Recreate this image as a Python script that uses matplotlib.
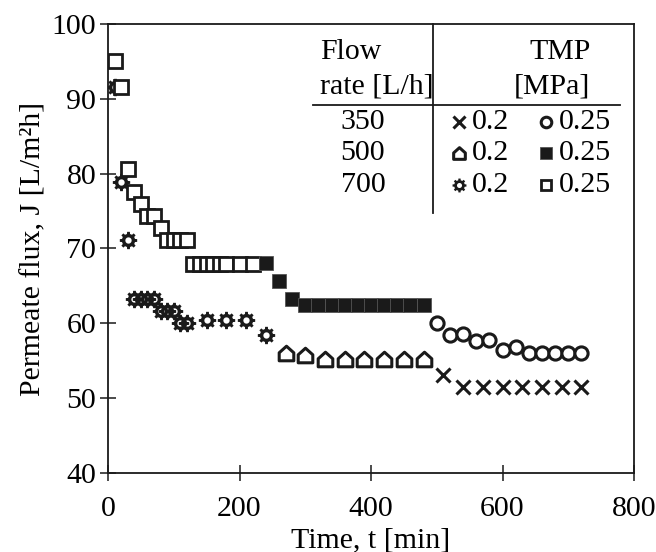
import matplotlib
matplotlib.use("Agg")
import matplotlib.pyplot as plt
import numpy as np
from matplotlib.path import Path

plt.rcParams['font.family'] = ['Liberation Serif', 'DejaVu Serif']
FS = 21.5

# ---------------- data ----------------
sq700_t = [10, 20, 30, 40, 50, 60, 70, 80, 90, 100, 110, 120,
           130, 140, 150, 160, 170, 180, 200, 220]
sq700_v = [95.0, 91.6, 80.6, 77.5, 75.9, 74.3, 74.3, 72.7, 71.1, 71.1, 71.1, 71.1,
           67.9, 67.9, 67.9, 67.9, 67.9, 67.9, 67.9, 67.9]

star700_t = [10, 20, 30, 40, 50, 60, 70, 80, 90, 100, 110, 120, 150, 180, 210, 240]
star700_v = [91.6, 78.9, 71.1, 63.2, 63.2, 63.2, 63.2, 61.7, 61.7, 61.7, 60.0, 60.0,
             60.5, 60.5, 60.5, 58.4]

fsq500_t = [240, 260, 280, 300, 320, 340, 360, 380, 400, 420, 440, 460, 480]
fsq500_v = [68.0, 65.6, 63.2, 62.5, 62.5, 62.5, 62.5, 62.5, 62.5, 62.5, 62.5, 62.5, 62.5]

house500_t = [270, 300, 330, 360, 390, 420, 450, 480]
house500_v = [56.0, 55.8, 55.3, 55.3, 55.3, 55.3, 55.3, 55.3]

circ350_t = [500, 520, 540, 560, 580, 600, 620, 640, 660, 680, 700, 720]
circ350_v = [60.0, 58.4, 58.6, 57.6, 57.8, 56.5, 56.9, 56.1, 56.0, 56.0, 56.0, 56.0]

cross350_t = [510, 540, 570, 600, 630, 660, 690, 720]
cross350_v = [53.1, 51.5, 51.5, 51.5, 51.5, 51.5, 51.5, 51.5]

flow_rates = ["350", "500", "700"]
tmp_low = "0.2"
tmp_high = "0.25"
x_ticks = [0, 200, 400, 600, 800]
y_ticks = [40, 50, 60, 70, 80, 90, 100]

# ---------------- custom markers ----------------
def house_marker():
    verts = [(-1, -1), (1, -1), (1, 0.1), (0, 1), (-1, 0.1), (-1, -1)]
    codes = [Path.MOVETO] + [Path.LINETO] * 4 + [Path.CLOSEPOLY]
    return Path(verts, codes)

def gear_marker(n=8, r_out=1.0, r_in=0.76, r_hole=0.36):
    verts, codes = [], []
    step = 2 * np.pi / n
    for i in range(n):
        a = i * step
        for aa, r in [(a - step * 0.30, r_in), (a - step * 0.20, r_out),
                      (a + step * 0.20, r_out), (a + step * 0.30, r_in)]:
            verts.append((r * np.cos(aa), r * np.sin(aa)))
    codes = [Path.MOVETO] + [Path.LINETO] * (len(verts) - 1)
    verts.append(verts[0]); codes.append(Path.CLOSEPOLY)
    m = 20
    hole = [(r_hole * np.cos(-2 * np.pi * k / m), r_hole * np.sin(-2 * np.pi * k / m)) for k in range(m)]
    verts += hole + [hole[0]]
    codes += [Path.MOVETO] + [Path.LINETO] * (m - 1) + [Path.CLOSEPOLY]
    return Path(verts, codes)

HOUSE = house_marker()
GEAR = gear_marker()

# ---------------- figure ----------------
fig = plt.figure(figsize=(6.56, 5.52), dpi=100)
ax = fig.add_axes([108 / 656, 1 - 473 / 552, 526 / 656, 449 / 552])

st_star = dict(marker=GEAR, ms=12.5, color='#1a1a1a', mec='none', ls='none')
st_osq = dict(marker='s', ms=9.5, mfc='white', mec='#1a1a1a', mew=2.0, ls='none')
st_fsq = dict(marker='s', ms=10, mfc='#1a1a1a', mec='#555555', mew=0.6, ls='none')
st_house = dict(marker=HOUSE, ms=10.5, mfc='white', mec='#1a1a1a', mew=2.2, ls='none')
st_circ = dict(marker='o', ms=9.5, mfc='white', mec='#1a1a1a', mew=2.2, ls='none')
st_cross = dict(marker='x', ms=10, mec='#1a1a1a', mew=2.2, ls='none')

ax.plot(star700_t, star700_v, zorder=3, **st_star)
ax.plot(sq700_t, sq700_v, zorder=4, **st_osq)
ax.plot(fsq500_t, fsq500_v, zorder=4, **st_fsq)
ax.plot(house500_t, house500_v, zorder=3, **st_house)
ax.plot(circ350_t, circ350_v, zorder=3, **st_circ)
ax.plot(cross350_t, cross350_v, zorder=3, **st_cross)

ax.set_xlim(0, 800)
ax.set_ylim(40, 100)
ax.set_xticks(x_ticks)
ax.set_yticks(y_ticks)
ax.tick_params(direction='inout', length=11, width=1.1, labelsize=FS, color='#1a1a1a')
ax.tick_params(axis='x', pad=11)
ax.tick_params(axis='y', pad=3)
for s in ax.spines.values():
    s.set_linewidth(1.3)
    s.set_color('#1a1a1a')

ax.set_xlabel("Time, t [min]", fontsize=FS, labelpad=4)
ax.set_ylabel("Permeate flux, J [L/m\u00b2h]", fontsize=FS, labelpad=4)

# ---------------- table-like legend ----------------
def ax_xy(px, py):
    return (px - 108) / 526, (473 - py) / 449

tr = ax.transAxes
x0, y0 = ax_xy(320, 52)
ax.text(x0, y0, "Flow", transform=tr, fontsize=FS, ha='left', va='center')
x0, y0 = ax_xy(320, 87)
ax.text(x0, y0, "rate [L/h]", transform=tr, fontsize=FS, ha='left', va='center')
x0, y0 = ax_xy(560, 52)
ax.text(x0, y0, "TMP", transform=tr, fontsize=FS, ha='center', va='center')
x0, y0 = ax_xy(552, 87)
ax.text(x0, y0, "[MPa]", transform=tr, fontsize=FS, ha='center', va='center')

xa, ya = ax_xy(313, 105)
xb, _ = ax_xy(620, 105)
ax.plot([xa, xb], [ya, ya], transform=tr, color='#1a1a1a', lw=1.3, clip_on=False)
xv, yt = ax_xy(433, 24)
_, yb = ax_xy(433, 213)
ax.plot([xv, xv], [yt, yb], transform=tr, color='#1a1a1a', lw=1.3, clip_on=False)

row_py = [122, 153, 185]
styles_low = [st_cross, st_house, st_star]
styles_high = [st_circ, st_fsq, st_osq]
for lab, py, sl, sh in zip(flow_rates, row_py, styles_low, styles_high):
    x0, y0 = ax_xy(363, py)
    ax.text(x0, y0, lab, transform=tr, fontsize=FS, ha='center', va='center')
    xm, ym = ax_xy(459, py)
    d = dict(sl); d['ms'] = d['ms'] * 0.8
    ax.plot([xm], [ym], transform=tr, clip_on=False, **d)
    xt, _ = ax_xy(472, py)
    ax.text(xt, y0, tmp_low, transform=tr, fontsize=FS, ha='left', va='center')
    xm2, _ = ax_xy(546, py)
    d2 = dict(sh); d2['ms'] = d2['ms'] * 0.8
    ax.plot([xm2], [ym], transform=tr, clip_on=False, **d2)
    xt2, _ = ax_xy(559, py)
    ax.text(xt2, y0, tmp_high, transform=tr, fontsize=FS, ha='left', va='center')

fig.savefig("out.png", dpi=100)
